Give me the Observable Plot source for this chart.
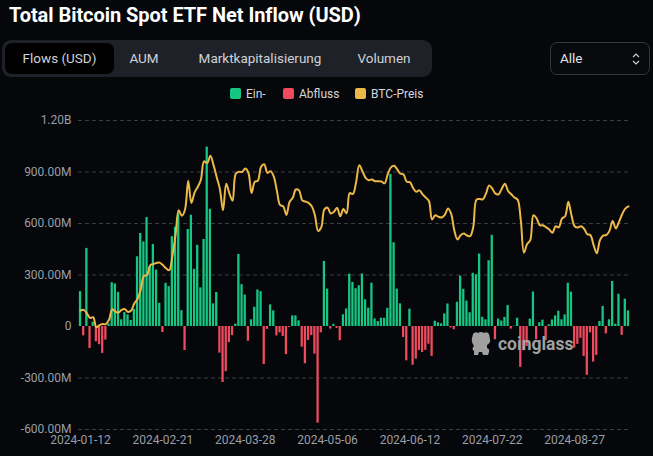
<!DOCTYPE html>
<html><head><meta charset="utf-8">
<script src="https://cdn.jsdelivr.net/npm/d3@7"></script>
<script src="https://cdn.jsdelivr.net/npm/@observablehq/plot@0.6"></script>
<style>
html,body{margin:0;padding:0;background:#05070b;width:653px;height:456px;overflow:hidden;font-family:Roboto,"DejaVu Sans",sans-serif;}
#title{position:absolute;left:9px;top:3px;font-weight:700;font-size:20px;color:#ffffff;white-space:nowrap;letter-spacing:-0.05px;}
#tabs{position:absolute;left:2px;top:40px;width:430px;height:37px;background:#1e2127;border-radius:9px;}
.tab{position:absolute;top:3px;height:31px;line-height:31px;font-size:13.5px;color:#cfd2d7;text-align:center;}
.tab.active{background:#000;border-radius:7px;}
#sel{position:absolute;left:550px;top:42px;width:98px;height:31px;border:1px solid #34373e;border-radius:7px;background:#07090d;color:#e2e4e8;font-size:13.5px;}
#sel span{position:absolute;left:9px;top:7px;}
#sel svg{position:absolute;right:9px;top:9px;}
#legend{position:absolute;top:86px;left:0;width:653px;height:16px;font-size:12px;color:#d6d8dc;}
.lg{position:absolute;top:1px;white-space:nowrap;}
.sw{display:inline-block;width:11px;height:11px;border-radius:2px;vertical-align:-1px;margin-right:5px;}
#chart{position:absolute;left:0;top:100px;}
#wm{position:absolute;left:470px;top:330px;color:#a9a9a9;font-weight:700;font-size:17.5px;white-space:nowrap;opacity:0.95}
#wm svg{vertical-align:-7px;margin-right:6px}
</style></head>
<body>
<div id="title">Total Bitcoin Spot ETF Net Inflow (USD)</div>
<div id="tabs">
  <div class="tab active" style="left:3px;width:109px">Flows (USD)</div>
  <div class="tab" style="left:120px;width:44px">AUM</div>
  <div class="tab" style="left:184px;width:148px">Marktkapitalisierung</div>
  <div class="tab" style="left:348px;width:68px">Volumen</div>
</div>
<div id="sel"><span>Alle</span><svg width="8" height="14" viewBox="0 0 8 14"><path d="M1 5 L4 2 L7 5 M1 9 L4 12 L7 9" stroke="#c9ccd1" stroke-width="1.2" fill="none"/></svg></div>
<div id="legend"></div>
<div id="chart"></div>
<div id="wm"><svg width="22" height="27" viewBox="0 0 22 27"><path d="M3 4 Q5 1 8 3 Q11 1 14 3 Q17 1 19 4 L20 9 Q21 13 17 15 L17 18 Q20 19 19 22 L18 25 L13 25 L12 22 L9 22 L8 25 L4 25 L4 21 Q1 19 4 16 Q1 12 2 8 Z" fill="#a9a9a9"/></svg>coinglass</div>
<script>
// ---- data ----
const startDate = "2024-01-12";
const holidays = ["2024-01-15","2024-02-19","2024-03-29","2024-05-27","2024-06-19","2024-07-04","2024-09-02"];
const tickLabels = ["2024-01-12","2024-02-21","2024-03-28","2024-05-06","2024-06-12","2024-07-22","2024-08-27"];
const yTicks = [-600e6,-300e6,0,300e6,600e6,900e6,1200e6];
const seriesNames = ["Ein-","Abfluss","BTC-Preis"];
const seriesColors = ["#16c784","#ef4a5e","#ecb847"];
// net flows, millions USD
const flows = [
203,-54,455,-128,25,-89,-106,-157,-79,15,
255,248,199,39,81,68,35,100,406,542,
493,635,348,478,329,135,-35,252,232,523,
578,660,92,-140,565,648,333,473,225,507,
1045,683,132,198,-155,-326,-263,-94,-53,14,
420,244,183,-86,39,112,213,203,-222,-17,
126,91,-55,-37,-58,-164,-5,62,62,33,
-120,-217,-81,-53,-161,-563,-37,379,218,-15,
13,-11,-83,68,102,305,257,220,237,306,
155,107,252,44,29,48,48,106,886,488,
218,132,-64,-200,101,-226,-190,-139,-151,-139,
-103,-174,31,21,15,73,131,-8,-19,141,
294,217,148,80,310,302,422,54,39,383,
531,-77,43,32,53,122,-15,2,48,-238,
-141,-116,43,201,-77,22,37,-82,10,38,
62,89,39,67,252,200,-126,-104,-69,-174,
-284,-37,-207,-168,29,117,-43,39,262,13,
188,-52,159,91];
// BTC price, USD
const prices = [
42255,42395,41695,40750,40890,38825,39280,39490,39490,40365,
42500,42045,41835,42395,42535,41975,42255,43725,44600,46525,
49290,49500,51460,51740,51950,52020,51530,50865,50480,53350,
57725,62695,61575,62870,68715,64200,66300,67455,68925,72670,
72320,73790,71900,69450,67000,62695,68120,66125,64655,70150,
70570,70500,71200,70325,66230,68470,68750,71550,72075,70325,
70675,69625,66650,63780,63500,61750,64375,65250,66930,66755,
64725,64480,64200,63500,61680,58495,59230,62870,63220,62030,
62380,63220,61470,62940,62100,66195,66020,68400,71900,70675,
69310,68820,68960,68610,68610,68575,68190,70080,71445,71760,
71025,70150,69975,68505,68435,67245,66475,66755,65950,65285,
64585,60805,61680,61365,61225,61750,63045,62030,58635,56745,
57620,57970,57550,57410,59300,64865,65005,64935,66090,67770,
67105,66090,65950,67105,68120,66615,65950,65285,64865,60665,
54050,55800,56605,61680,61050,59650,59650,59195,58775,58110,
59440,59195,61015,61470,64410,61680,59440,59195,59440,58915,
57830,57620,55590,53910,56605,57550,57620,58495,60525,58985,
60350,61890,63045,63500];
// secondary (price) axis range, aligned with the flow axis range
const priceAxis = [18000, 81000];

// ---- build ----
function tradingDays(start, n, hol) {
  const out = []; const d = new Date(start + "T00:00:00Z");
  while (out.length < n) {
    const s = d.toISOString().slice(0,10); const wd = d.getUTCDay();
    if (wd !== 0 && wd !== 6 && !hol.includes(s)) out.push(s);
    d.setUTCDate(d.getUTCDate() + 1);
  }
  return out;
}
const dates = tradingDays(startDate, flows.length, holidays);
const yMin = yTicks[0], yMax = yTicks[yTicks.length-1];
const p2y = p => yMin + (p - priceAxis[0]) / (priceAxis[1] - priceAxis[0]) * (yMax - yMin);
const rows = dates.map((d,i) => ({date:d, flow:flows[i]*1e6, price:prices[i], py:p2y(prices[i])}));
const fmt = v => v === 0 ? "0" : Math.abs(v) >= 1e9 ? (v/1e9).toFixed(2) + "B" : (v/1e6).toFixed(2) + "M";

const chart = Plot.plot({
  width: 653, height: 356,
  marginTop: 20, marginBottom: 27, marginLeft: 78, marginRight: 23,
  style: {background: "transparent", color: "#9a9ea6", fontFamily: "Roboto, sans-serif", fontSize: "12px", overflow: "visible"},
  x: {type: "band", domain: dates, ticks: tickLabels, tickSize: 0, tickPadding: 6, padding: 0.28, round: false, label: null},
  y: {domain: [yMin, yMax], ticks: yTicks, tickFormat: fmt, tickSize: 0, tickPadding: 7, label: null},
  marks: [
    Plot.ruleY(yTicks.filter(v => v !== 0), {stroke: "#3a3d44", strokeDasharray: "4,3", strokeWidth: 1}),
    Plot.barY(rows, {x: "date", y: "flow", fill: d => d.flow >= 0 ? seriesColors[0] : seriesColors[1]}),
    Plot.line(rows, {x: "date", y: "py", stroke: seriesColors[2], strokeWidth: 2, curve: "catmull-rom"})
  ]
});
document.getElementById("chart").appendChild(chart);

const lg = document.getElementById("legend");
const lx = [230, 283, 355];
seriesNames.forEach((n,i) => {
  const el = document.createElement("div"); el.className = "lg"; el.style.left = lx[i] + "px";
  el.innerHTML = `<span class="sw" style="background:${seriesColors[i]}"></span>${n}`;
  lg.appendChild(el);
});
</script>
</body></html>
